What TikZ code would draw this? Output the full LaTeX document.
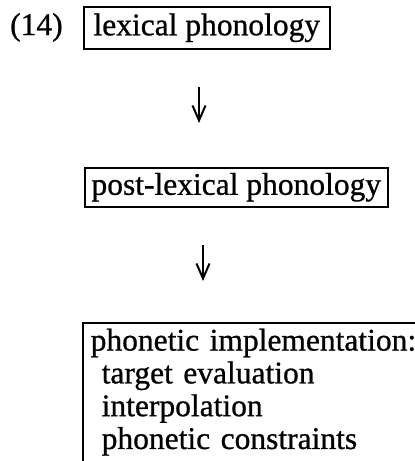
\documentclass[tikz,border=0pt]{standalone}
\usepackage{fontspec}
\setmainfont{Liberation Serif}[BoldFont={Liberation Serif}, BoldFeatures={FakeBold=0.8}]
\usetikzlibrary{arrows.meta}
\begin{document}
\begin{tikzpicture}[x=1pt,y=-1pt,
  every node/.style={font=\fontsize{31.5}{32.8}\selectfont\bfseries},
  stagebox/.style={draw, line width=1.6pt, inner sep=0pt, anchor=north west,
    text height=22pt, text depth=7pt},
  rule/.style={line width=1.6pt},
  flow/.style={line width=1.8pt, -{Straight Barb[length=15pt,width=13pt,line width=2pt]}}]
\clip (0,0) rectangle (415,461);
\node[anchor=base west, inner sep=0pt] (ex) at (10,35) {(14)};
\node[stagebox, minimum width=246pt, minimum height=42pt] (lex) at (83,6) {lexical phonology};
\node[stagebox, minimum width=303pt, minimum height=39pt] (post) at (84,167) {post-lexical phonology};
\node[anchor=north west, inner xsep=7.5pt, inner ysep=5.5pt,
  text width=340pt, align=left] (phon) at (83,323)
  {phonetic implementation:\\
   \hspace*{11pt}target evaluation\\
   \hspace*{11pt}interpolation\\
   \hspace*{11pt}phonetic constraints};
\draw[rule] ([yshift=-30pt]phon.south west) -- (phon.north west) -- (phon.north east);
\coordinate (a1s) at (199,87);
\coordinate (a1e) at (199,123);
\coordinate (a2s) at (203,245);
\coordinate (a2e) at (203,281);
\draw[flow] (a1s) -- (a1e);
\draw[flow] (a2s) -- (a2e);
\end{tikzpicture}
\end{document}
